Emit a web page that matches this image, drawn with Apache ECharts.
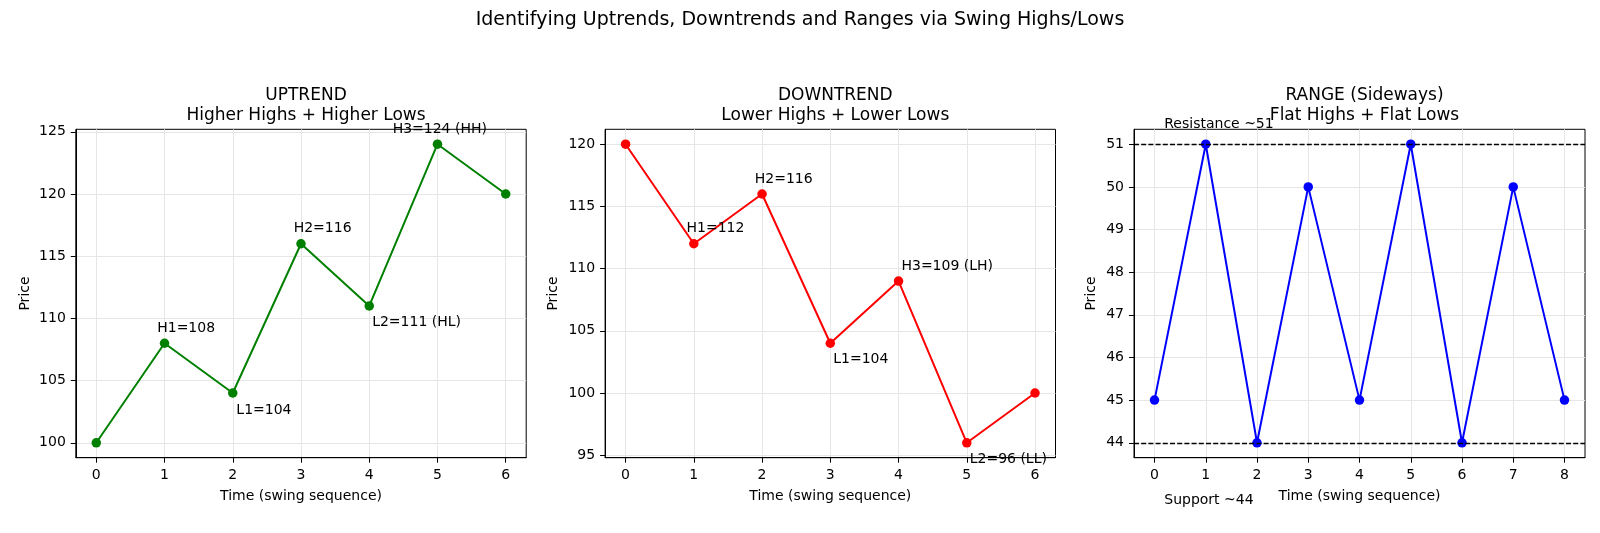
<!DOCTYPE html>
<html>
<head>
<meta charset="utf-8">
<script src="https://cdn.jsdelivr.net/npm/echarts@6/dist/echarts.min.js"></script>
<style>
  html, body { margin: 0; padding: 0; background: #fff; }
  #chart { width: 1600px; height: 533px; }
</style>
</head>
<body>
<div id="chart"></div>
<script>
// ---- data ----
const upX = [0, 1, 2, 3, 4, 5, 6];
const upY = [100, 108, 104, 116, 111, 124, 120];
const downX = [0, 1, 2, 3, 4, 5, 6];
const downY = [120, 112, 116, 104, 109, 96, 100];
const rangeX = [0, 1, 2, 3, 4, 5, 6, 7, 8];
const rangeY = [45, 51, 44, 50, 45, 51, 44, 50, 45];

const upLabels = [['H1=108', 0.9, 109], ['L1=104', 2.06, 102.4], ['H2=116', 2.9, 117], ['L2=111 (HL)', 4.05, 109.45], ['H3=124 (HH)', 4.35, 125]];
const downLabels = [['H1=112', 0.9, 113], ['H2=116', 1.9, 117], ['L1=104', 3.05, 102.5], ['H3=109 (LH)', 4.05, 110], ['L2=96 (LL)', 5.05, 94.45]];
const rangeLabels = [['Resistance ~51', 0.2, 51.4], ['Support ~44', 0.2, 42.6]];
const rangeLevels = [51, 44];

const xTicks7 = [0, 1, 2, 3, 4, 5, 6];
const xTicks9 = [0, 1, 2, 3, 4, 5, 6, 7, 8];
const yTicksUp = [100, 105, 110, 115, 120, 125];
const yTicksDown = [95, 100, 105, 110, 115, 120];
const yTicksRange = [44, 45, 46, 47, 48, 49, 50, 51];

const mainTitle = 'Identifying Uptrends, Downtrends and Ranges via Swing Highs/Lows';
const panelTitles = ['UPTREND\nHigher Highs + Higher Lows', 'DOWNTREND\nLower Highs + Lower Lows', 'RANGE (Sideways)\nFlat Highs + Flat Lows'];
const xName = 'Time (swing sequence)';
const yName = 'Price';

// ---- layout ----
const FONT = 'DejaVu Sans, sans-serif';
const grids = [
  { left: 75.8, top: 129.3, width: 450.4, height: 328.4 },
  { left: 605.1, top: 129.3, width: 450.4, height: 328.4 },
  { left: 1134, top: 129.3, width: 451, height: 328.4 }
];
const xRanges = [[-0.3, 6.3, 5], [-0.3, 6.3, 5], [-0.4, 8.4, 9]];
const yRanges = [[98.8, 125.2, 5], [94.8, 121.2, 5], [43.65, 51.35, 8]];
const xTickSets = [xTicks7, xTicks7, xTicks9];
const yTickSets = [yTicksUp, yTicksDown, yTicksRange];
const yNameGaps = [43, 45, 36];

function xAxis(i) {
  return {
    type: 'value', gridIndex: i,
    min: xRanges[i][0], max: xRanges[i][1], splitNumber: xRanges[i][2],
    name: xName, nameLocation: 'middle', nameGap: 32,
    nameTextStyle: { fontFamily: FONT, fontSize: 14, color: '#000' },
    axisLine: { show: true, onZero: false, lineStyle: { color: '#000', width: 1 } },
    axisTick: { show: true, inside: false, length: 5, customValues: xTickSets[i], lineStyle: { color: '#000', width: 1 } },
    axisLabel: { show: true, customValues: xTickSets[i], margin: 11, fontFamily: FONT, fontSize: 14, color: '#000' },
    splitLine: { show: true, lineStyle: { color: '#e6e6e6', width: 1 } }
  };
}
function yAxis(i) {
  return {
    type: 'value', gridIndex: i,
    min: yRanges[i][0], max: yRanges[i][1], splitNumber: yRanges[i][2],
    name: yName, nameLocation: 'middle', nameGap: yNameGaps[i], nameRotate: 90,
    nameTextStyle: { fontFamily: FONT, fontSize: 14, color: '#000' },
    axisLine: { show: true, onZero: false, lineStyle: { color: '#000', width: 1 } },
    axisTick: { show: true, inside: false, length: 5, customValues: yTickSets[i], lineStyle: { color: '#000', width: 1 } },
    axisLabel: { show: true, customValues: yTickSets[i], margin: 10, fontFamily: FONT, fontSize: 14, color: '#000' },
    splitLine: { show: true, lineStyle: { color: '#e6e6e6', width: 1 } }
  };
}
function lineSeries(i, xs, ys, color) {
  return {
    type: 'line', xAxisIndex: i, yAxisIndex: i,
    data: xs.map((x, k) => [x, ys[k]]),
    symbol: 'circle', symbolSize: 9.5, showSymbol: true,
    lineStyle: { color: color, width: 2 },
    itemStyle: { color: color },
    emphasis: { disabled: true },
    animation: false, z: 3
  };
}
function labelSeries(i, labels) {
  return {
    type: 'scatter', xAxisIndex: i, yAxisIndex: i, clip: false,
    symbol: 'rect', symbolSize: 1,
    data: labels.map(l => ({ name: l[0], value: [l[1], l[2]] })),
    itemStyle: { color: 'rgba(255,255,255,0)', opacity: 1 },
    label: {
      show: true, formatter: '{b}', position: [0, 5], align: 'left', verticalAlign: 'bottom',
      fontFamily: FONT, fontSize: 14, color: '#000', opacity: 1
    },
    labelLayout: { hideOverlap: false },
    emphasis: { disabled: true },
    animation: false, z: 5, silent: true
  };
}

const option = {
  backgroundColor: '#fff',
  animation: false,
  title: [
    { text: mainTitle, left: 'center', top: 6, textStyle: { fontFamily: FONT, fontSize: 19, fontWeight: 'normal', color: '#000' } }
  ].concat(panelTitles.map((t, i) => ({
    text: t, left: grids[i].left + grids[i].width / 2, top: 81, textAlign: 'center',
    textStyle: { fontFamily: FONT, fontSize: 17, fontWeight: 'normal', color: '#000', lineHeight: 19.5 }
  }))),
  grid: grids.map(g => Object.assign({ show: true, borderColor: '#000', borderWidth: 1, backgroundColor: 'transparent', containLabel: false }, g)),
  xAxis: [0, 1, 2].map(xAxis),
  yAxis: [0, 1, 2].map(yAxis),
  series: [
    lineSeries(0, upX, upY, '#008000'),
    lineSeries(1, downX, downY, '#ff0000'),
    Object.assign(lineSeries(2, rangeX, rangeY, '#0000ff'), {
      markLine: {
        silent: true, symbol: 'none', animation: false,
        label: { show: false },
        lineStyle: { color: '#000', width: 1.4, type: [5, 2.2] },
        data: rangeLevels.map(v => ({ yAxis: v }))
      }
    }),
    labelSeries(0, upLabels),
    labelSeries(1, downLabels),
    labelSeries(2, rangeLabels)
  ]
};

const chart = echarts.init(document.getElementById('chart'), null, { renderer: 'canvas' });
chart.setOption(option);
</script>
</body>
</html>
